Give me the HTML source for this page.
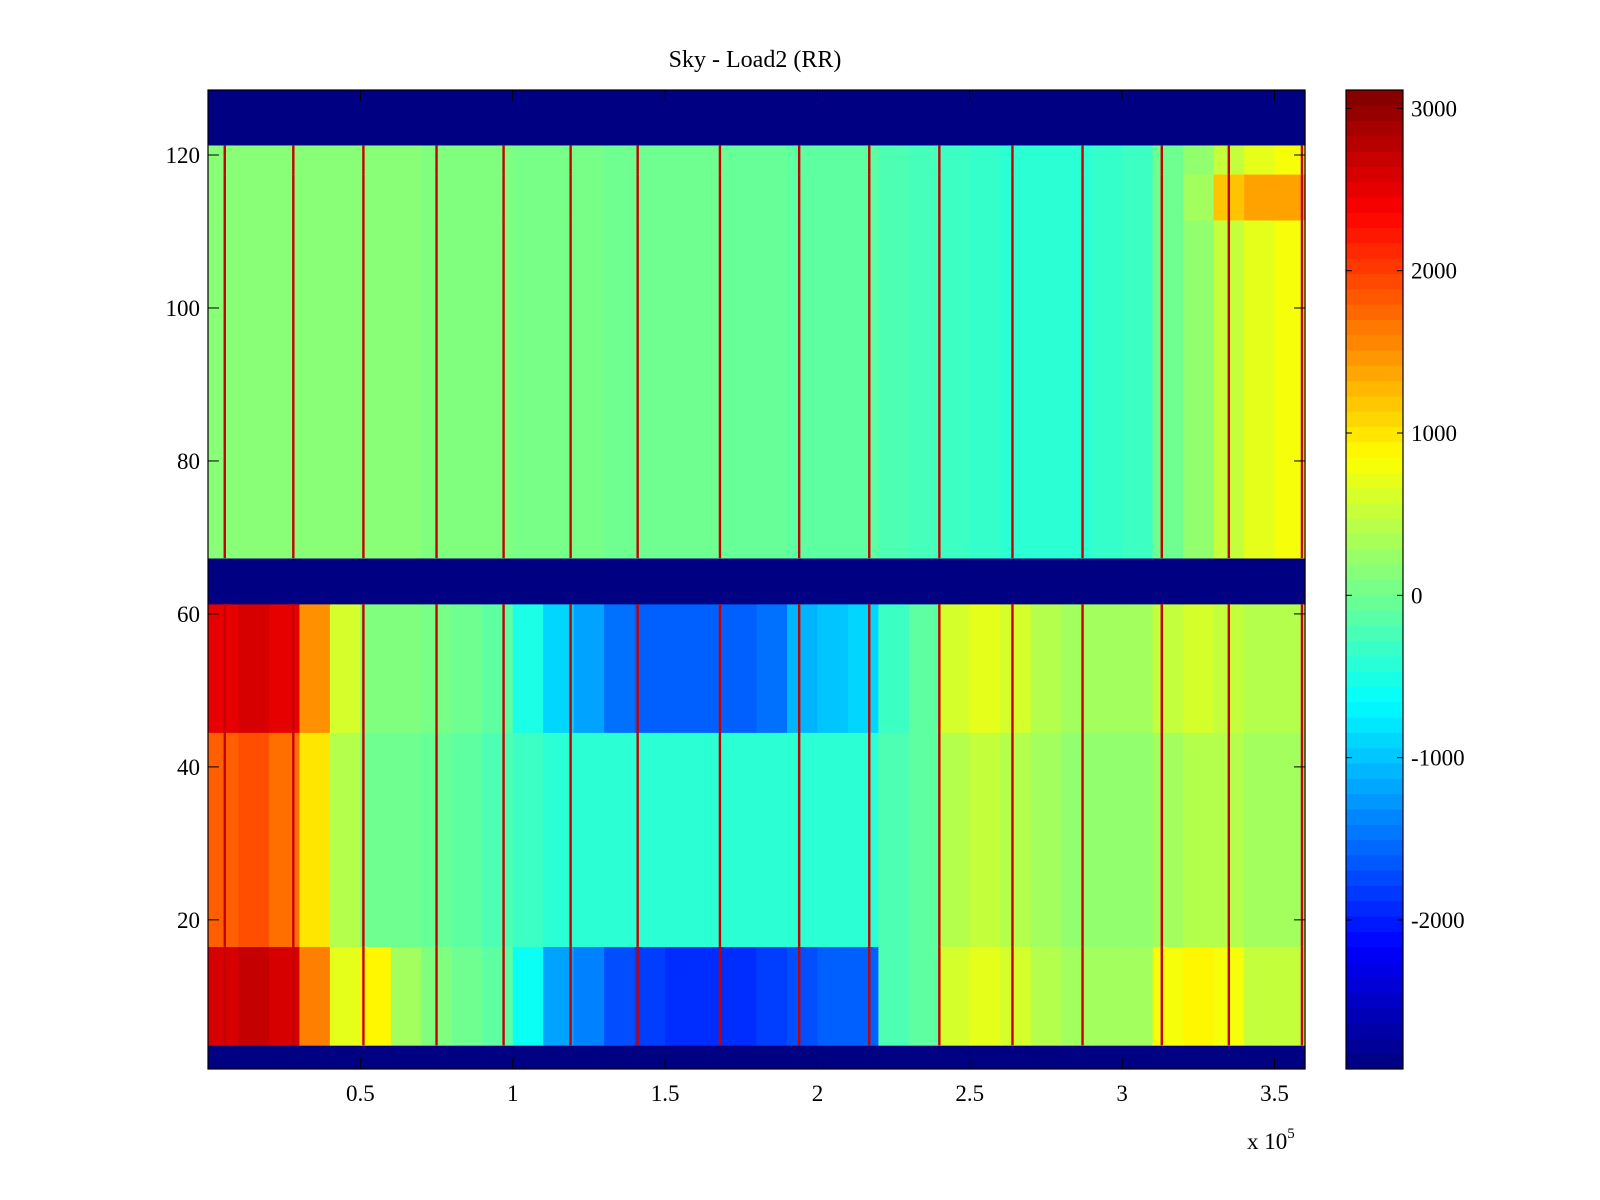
<!DOCTYPE html>
<html><head><meta charset="utf-8">
<style>
html,body{margin:0;padding:0;background:#fff;}
svg{display:block;font-family:"Liberation Serif",serif;}
</style></head>
<body>
<svg id="chart" width="1600" height="1200" viewBox="0 0 1600 1200">
<rect width="1600" height="1200" fill="#fff"/>
<text x="755" y="67" font-size="24" text-anchor="middle">Sky - Load2 (RR)</text>
<g id="cells"></g>
<g id="stripes"></g>
<g id="cbar"></g>
<g id="axes"></g>
<text x="1247" y="1149" font-size="23">x 10<tspan dy="-11" font-size="15">5</tspan></text>
</svg>
<script>
// ---- data ----
const xStep = 1e4;
const upperVals = [150,150,150,150,150,150,150,100,100,100, 50,50,50,0,0,0,0,-50,-50,-100,-100,-100, -200,-250,-300,-350,-400,-400,-400,-350,-300, 0,200,500,700,800];
const hotVals   = [150,150,150,150,150,150,150,100,100,100, 50,50,50,0,0,0,0,-50,-50,-100,-100,-100, -200,-250,-300,-350,-400,-400,-400,-350,-300, 0,300,1200,1400,1400];
const topVals   = [2500,2600,2500,1500,600, 100,100,50,0,-100, -500,-900,-1200,-1500,-1600,-1600,-1600,-1600,-1500,-1100, -1000,-900,-300,-100, 600,700,600,400,300,300, 300, 500,600,500,400,400];
const midVals   = [1800,1900,1700,1000,400, 0,0,-50,-100,-200, -300,-400,-400,-400,-400,-400,-400,-400,-400,-400, -400,-400,-200,-100, 400,500,400,300,200,200, 200, 300,400,400,300,300];
const botVals   = [2600,2700,2600,1600,700, 900,300,100,0,-100, -600,-1200,-1400,-1700,-1800,-1900,-1900,-1900,-1800,-1700, -1600,-1600,-200,-100, 600,700,600,400,300,300, 300, 800,900,800,500,500];
const darkValue = -2900;
const rowFrom = [0.5, 3.6, 16.5, 44.5, 61.3, 67.3, 111.5, 117.5, 121.3];
const rowTo   = [3.6, 16.5, 44.5, 61.3, 67.3, 111.5, 117.5, 121.3, 128.5];
const rowKind = ['dark','bot','mid','top','dark','upper','hot','upper','dark'];
const stripeX = [0.055,0.28,0.51,0.75,0.97,1.19,1.41,1.68,1.94,2.17,2.40,2.64,2.87,3.13,3.35,3.59];
const stripeValue = 2700;
const xTicks = [0.5,1,1.5,2,2.5,3,3.5];
const xTickLabels = ['0.5','1','1.5','2','2.5','3','3.5'];
const yTicks = [20,40,60,80,100,120];
const cTicks = [3000,2000,1000,0,-1000,-2000];
const cMin = -2918, cMax = 3113;

// ---- scales ----
const PX0=208, PX1=1305, PY0=90, PY1=1069;
const xMax = 3.6e5;
const xs = v => PX0 + v/xMax*(PX1-PX0);
const rowPx = (PY1-PY0)/128;
const ys = r => PY1 - (r-0.5)*rowPx;
const CX0=1346, CX1=1403;
const cs = v => PY1 - (v-cMin)/(cMax-cMin)*(PY1-PY0);
function jet(v){
  let t=(v-cMin)/(cMax-cMin); t=Math.max(0,Math.min(1,t));
  const f=x=>Math.max(0,Math.min(1,x));
  const r=f(1.5-Math.abs(4*t-3)), g=f(1.5-Math.abs(4*t-2)), b=f(1.5-Math.abs(4*t-1));
  return `rgb(${Math.round(r*255)},${Math.round(g*255)},${Math.round(b*255)})`;
}
const NS='http://www.w3.org/2000/svg';
const valsFor = {upper:upperVals, hot:hotVals, top:topVals, mid:midVals, bot:botVals};
const cells=document.getElementById('cells');
for(let g=0;g<rowKind.length;g++){
  const y0=ys(rowTo[g]), y1=ys(rowFrom[g]);
  const kind=rowKind[g];
  const n=upperVals.length;
  for(let i=0;i<n;i++){
    const v = kind==='dark'?darkValue:valsFor[kind][i];
    const r=document.createElementNS(NS,'rect');
    const xa=xs(i*xStep), xb=xs((i+1)*xStep);
    r.setAttribute('x',xa);r.setAttribute('y',y0);
    r.setAttribute('width',xb-xa+0.6);r.setAttribute('height',y1-y0+0.4);
    r.setAttribute('fill',jet(v));
    
    
    cells.appendChild(r);
  }
}
const stripes=document.getElementById('stripes');
for(let g=0;g<rowKind.length;g++){
  if(rowKind[g]==='dark') continue;
  for(const sx of stripeX){
    const r=document.createElementNS(NS,'rect');
    r.setAttribute('x',xs(sx*1e5)-1.2);r.setAttribute('y',ys(rowTo[g]));
    r.setAttribute('width',2.4);r.setAttribute('height',ys(rowFrom[g])-ys(rowTo[g]));
    r.setAttribute('fill',jet(stripeValue));
    
    
    stripes.appendChild(r);
  }
}
const cb=document.getElementById('cbar');
const steps=64;
for(let k=0;k<steps;k++){
  const v0=cMin+(cMax-cMin)*k/steps, v1=cMin+(cMax-cMin)*(k+1)/steps;
  const r=document.createElementNS(NS,'rect');
  r.setAttribute('x',CX0);r.setAttribute('y',cs(v1));
  r.setAttribute('width',CX1-CX0);r.setAttribute('height',cs(v0)-cs(v1)+0.5);
  r.setAttribute('fill',jet((v0+v1)/2));
  
  
  cb.appendChild(r);
}
let h='';
h+=`<rect x="${CX0}" y="${PY0}" width="${CX1-CX0}" height="${PY1-PY0}" fill="none" stroke="#000" stroke-width="1.2"/>`;
for(const v of cTicks){
  const y=cs(v);
  h+=`<line x1="${CX0}" y1="${y}" x2="${CX0+6}" y2="${y}" stroke="#000"/><line x1="${CX1}" y1="${y}" x2="${CX1-6}" y2="${y}" stroke="#000"/>`;
  h+=`<text x="${CX1+8}" y="${y+8}" font-size="23">${v}</text>`;
}
cb.insertAdjacentHTML('beforeend',h);
let a=`<rect x="${PX0}" y="${PY0}" width="${PX1-PX0}" height="${PY1-PY0}" fill="none" stroke="#000" stroke-width="1.2"/>`;
xTicks.forEach((t,i)=>{
  const x=xs(t*1e5);
  a+=`<line x1="${x}" y1="${PY1}" x2="${x}" y2="${PY1-11}" stroke="#000"/><line x1="${x}" y1="${PY0}" x2="${x}" y2="${PY0+11}" stroke="#000"/>`;
  a+=`<text x="${x}" y="${PY1+32}" font-size="23" text-anchor="middle">${xTickLabels[i]}</text>`;
});
yTicks.forEach(t=>{
  const y=ys(t);
  a+=`<line x1="${PX0}" y1="${y}" x2="${PX0+11}" y2="${y}" stroke="#000"/><line x1="${PX1}" y1="${y}" x2="${PX1-11}" y2="${y}" stroke="#000"/>`;
  a+=`<text x="${PX0-8}" y="${y+8}" font-size="23" text-anchor="end">${t}</text>`;
});
document.getElementById('axes').insertAdjacentHTML('beforeend',a);
</script>
</body></html>
